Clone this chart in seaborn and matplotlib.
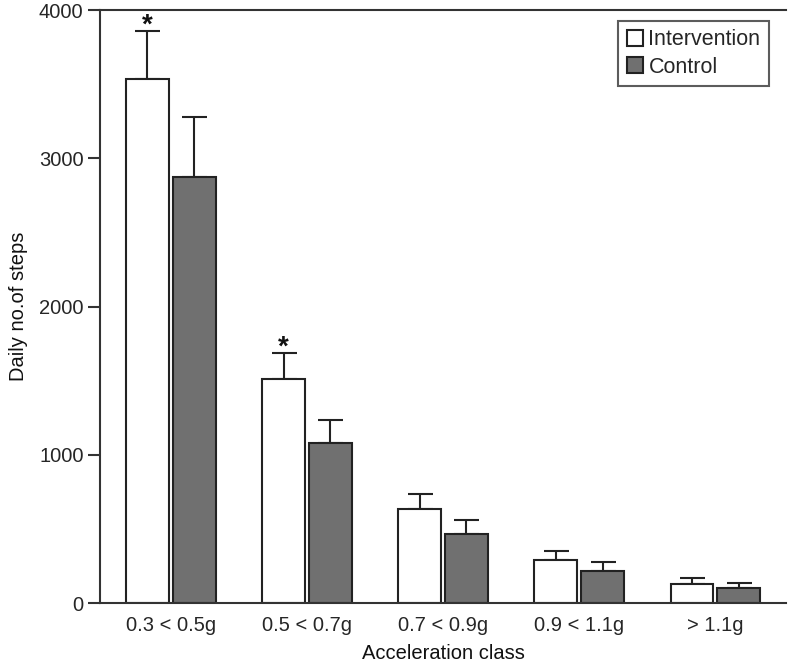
import matplotlib
matplotlib.use("Agg")
import matplotlib.pyplot as plt
import seaborn as sns
import pandas as pd
import numpy as np

categories = ["0.3 < 0.5g", "0.5 < 0.7g", "0.7 < 0.9g", "0.9 < 1.1g", "> 1.1g"]
groups = ["Intervention", "Control"]
intervention_mean = [3535, 1511, 634, 290, 128]
intervention_err = [323, 175, 101, 60, 41]
control_mean = [2873, 1079, 465, 216, 101]
control_err = [405, 155, 95, 61, 34]
significant = [True, True, False, False, False]

sns.set_theme(style="ticks")
plt.rcParams['font.family'] = ['Liberation Sans', 'DejaVu Sans']

df = pd.DataFrame({
    "cls": categories * 2,
    "group": [groups[0]] * 5 + [groups[1]] * 5,
    "steps": intervention_mean + control_mean,
})

fig = plt.figure(figsize=(7.89, 6.68), dpi=100)
ax = fig.add_axes([0.127, 0.097, 0.869, 0.888])

sns.barplot(data=df, x="cls", y="steps", hue="group", order=categories,
            hue_order=groups, palette={"Intervention": "white", "Control": "#707070"},
            edgecolor="#222222", linewidth=1.5, width=0.69, gap=0.1,
            errorbar=None, ax=ax, legend=True)

bars = [p for p in ax.patches if p.get_height() > 0 and p.get_width() < 1]
bars = sorted(bars, key=lambda p: p.get_x())
inter_x, ctrl_x = [], []
for i in range(len(categories)):
    pair = bars[2 * i:2 * i + 2]
    inter_x.append(pair[0].get_x() + pair[0].get_width() / 2)
    ctrl_x.append(pair[1].get_x() + pair[1].get_width() / 2)

ax.errorbar(inter_x, intervention_mean, yerr=[np.zeros(5), intervention_err],
            fmt="none", ecolor="#222222", elinewidth=1.5, capsize=9, capthick=1.5, zorder=1)
ax.errorbar(ctrl_x, control_mean, yerr=[np.zeros(5), control_err],
            fmt="none", ecolor="#222222", elinewidth=1.5, capsize=9, capthick=1.5, zorder=1)
for b in ax.patches:
    b.set_zorder(2)

for x, m, e, s in zip(inter_x, intervention_mean, intervention_err, significant):
    if s:
        ax.text(x, m + e + 35, "*", ha="center", va="center", fontsize=20,
                fontweight="bold", color="#111111", clip_on=False)

ax.set_xlim(-0.52, 4.52)
ax.set_ylim(0, 4000)
ax.set_yticks([0, 1000, 2000, 3000, 4000])
ax.tick_params(axis="y", length=9, width=1.5, color="#333333", labelsize=14.5, pad=3)
ax.tick_params(axis="x", length=0, labelsize=14.5, pad=9)
ax.set_xlabel("Acceleration class", fontsize=14.5, labelpad=7, color="#111111")
ax.set_ylabel("Daily no.of steps", fontsize=14.5, labelpad=8, color="#111111")
for sp in ["left", "bottom", "top"]:
    ax.spines[sp].set_linewidth(1.5)
    ax.spines[sp].set_color("#333333")
ax.spines["right"].set_visible(False)

leg = ax.legend(loc="upper right", bbox_to_anchor=(0.985, 0.993), fontsize=15.5,
                frameon=True, fancybox=False, edgecolor="#333333",
                handlelength=0.75, handleheight=0.75, handletextpad=0.25,
                borderpad=0.4, labelspacing=0.3, borderaxespad=0.3)
leg.get_frame().set_linewidth(1.5)

fig.savefig("out.png", dpi=100)
